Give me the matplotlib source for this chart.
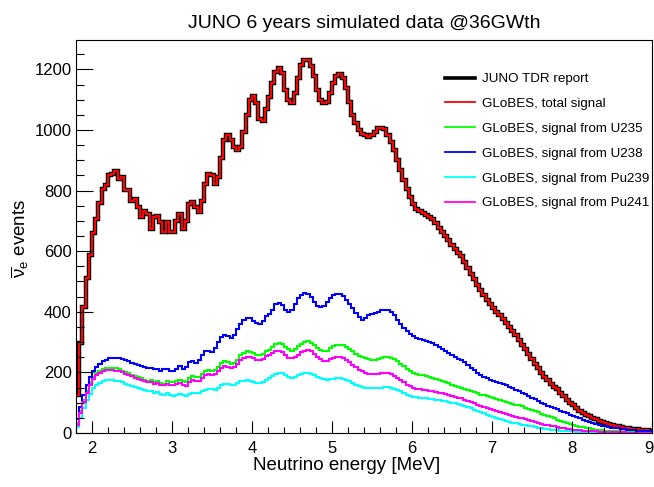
import numpy as np
import matplotlib
matplotlib.use('Agg')
import matplotlib.pyplot as plt
import matplotlib.transforms as mtransforms
from matplotlib.lines import Line2D
from matplotlib.ticker import MultipleLocator, FixedLocator

plt.rcParams['font.family'] = ['Liberation Sans', 'DejaVu Sans']
plt.rcParams['mathtext.fontset'] = 'custom'
plt.rcParams['mathtext.rm'] = 'Liberation Sans'
plt.rcParams['mathtext.it'] = 'Liberation Sans'

# ---- data (0.04 MeV bins from 1.8 to 9.0 MeV) ----
bin_edges = np.round(1.8 + 0.04 * np.arange(181), 2)
x_ticks = [2, 3, 4, 5, 6, 7, 8, 9]

tdr_report = [
    127, 297, 415, 510, 587, 659, 706, 760, 804, 820,
    850, 856, 865, 839, 845, 803, 803, 765, 773, 745,
    712, 734, 723, 673, 712, 717, 695, 662, 695, 662,
    662, 700, 723, 673, 700, 756, 762, 745, 728, 767,
    822, 856, 850, 822, 845, 906, 966, 983, 966, 944,
    933, 944, 994, 1049, 1099, 1113, 1088, 1035, 1030, 1070,
    1110, 1155, 1193, 1204, 1188, 1132, 1099, 1088, 1121, 1171,
    1215, 1232, 1232, 1210, 1177, 1132, 1099, 1088, 1094, 1121,
    1155, 1179, 1184, 1171, 1138, 1094, 1049, 1022, 1000, 988,
    985, 977, 983, 994, 1005, 1008, 1002, 985, 961, 933,
    900, 867, 834, 806, 778, 756, 739, 732, 725, 720,
    714, 705, 692, 678, 664, 650, 636, 622, 608, 595,
    585, 565, 545, 525, 507, 490, 472, 455, 440, 425,
    412, 400, 388, 375, 362, 350, 337, 323, 308, 292,
    276, 260, 244, 228, 213, 199, 186, 174, 163, 153,
    145, 133, 121, 110, 100, 91, 82, 74, 66, 60,
    55, 50, 45, 41, 37, 33, 30, 27, 24, 22,
    20, 18, 16, 14, 13, 12, 11, 10, 9, 8,
]

globes_total = [
    127, 297, 415, 510, 587, 659, 706, 760, 804, 820,
    850, 856, 865, 839, 845, 803, 803, 765, 773, 745,
    712, 734, 723, 673, 712, 717, 695, 662, 695, 662,
    662, 700, 723, 673, 700, 756, 762, 745, 728, 767,
    822, 856, 850, 822, 845, 906, 966, 983, 966, 944,
    933, 944, 994, 1049, 1099, 1113, 1088, 1035, 1030, 1070,
    1110, 1155, 1193, 1204, 1188, 1132, 1099, 1088, 1121, 1171,
    1215, 1232, 1232, 1210, 1177, 1132, 1099, 1088, 1094, 1121,
    1155, 1179, 1184, 1171, 1138, 1094, 1049, 1022, 1000, 988,
    985, 977, 983, 994, 1005, 1008, 1002, 985, 961, 933,
    900, 867, 834, 806, 778, 756, 739, 732, 725, 720,
    714, 705, 692, 678, 664, 650, 636, 622, 608, 595,
    585, 565, 545, 525, 507, 490, 472, 455, 440, 425,
    412, 400, 388, 375, 362, 350, 337, 323, 308, 292,
    276, 260, 244, 228, 213, 199, 186, 174, 163, 153,
    145, 133, 121, 110, 100, 91, 82, 74, 66, 60,
    55, 50, 45, 41, 37, 33, 30, 27, 24, 22,
    20, 18, 16, 14, 13, 12, 11, 10, 9, 8,
]

signal_u235 = [
    32, 72, 110, 140, 165, 185, 198, 206, 211, 214,
    215, 215, 213, 210, 206, 202, 197, 193, 188, 184,
    180, 176, 172, 175, 168, 170, 166, 163, 170, 167,
    168, 172, 176, 170, 168, 180, 188, 186, 186, 195,
    205, 208, 206, 208, 218, 230, 236, 233, 229, 232,
    242, 256, 265, 270, 268, 264, 258, 257, 262, 272,
    275, 285, 293, 297, 293, 284, 276, 272, 276, 286,
    295, 301, 302, 298, 290, 281, 275, 271, 272, 279,
    286, 291, 292, 290, 285, 278, 270, 262, 255, 250,
    248, 244, 242, 242, 245, 249, 252, 252, 249, 244,
    237, 229, 220, 212, 205, 199, 195, 192, 190, 188,
    185, 182, 179, 176, 172, 168, 164, 160, 156, 153,
    150, 146, 142, 138, 134, 131, 127, 124, 121, 118,
    115, 112, 109, 106, 103, 100, 97, 94, 91, 88,
    84, 80, 76, 72, 68, 64, 60, 56, 52, 48,
    44, 40, 36, 33, 30, 27, 24, 21, 19, 17,
    15, 13, 11, 10, 9, 8, 7, 6, 5, 5,
    4, 4, 3, 3, 3, 2, 2, 2, 2, 1,
]

signal_u238 = [
    45, 85, 125, 158, 185, 203, 218, 229, 237, 241,
    246, 249, 248, 246, 243, 240, 237, 232, 229, 225,
    222, 218, 214, 216, 210, 212, 205, 210, 212, 205,
    205, 212, 220, 212, 218, 235, 238, 232, 242, 258,
    270, 272, 268, 280, 300, 318, 325, 320, 312, 322,
    342, 360, 372, 378, 378, 370, 362, 360, 370, 385,
    392, 405, 425, 430, 421, 406, 400, 407, 425, 445,
    456, 462, 460, 449, 433, 420, 416, 420, 432, 446,
    455, 460, 459, 452, 440, 426, 411, 396, 383, 374,
    378, 388, 392, 395, 400, 405, 407, 405, 398, 388,
    374, 360, 348, 337, 328, 320, 314, 309, 306, 303,
    300, 296, 291, 285, 278, 271, 263, 256, 250, 245,
    240, 233, 225, 216, 207, 199, 192, 186, 180, 176,
    172, 168, 165, 161, 157, 153, 148, 143, 138, 133,
    128, 123, 117, 111, 106, 100, 95, 90, 85, 81,
    78, 74, 69, 65, 61, 57, 52, 48, 44, 40,
    35, 32, 29, 27, 24, 22, 20, 18, 16, 15,
    13, 12, 11, 10, 9, 8, 7, 6, 6, 5,
]

signal_pu239 = [
    20, 50, 82, 108, 130, 147, 159, 166, 171, 174,
    175, 175, 173, 170, 167, 163, 159, 155, 151, 148,
    145, 141, 137, 139, 133, 134, 130, 127, 131, 127,
    123, 125, 128, 124, 122, 129, 133, 131, 131, 137,
    143, 146, 144, 143, 149, 157, 162, 161, 157, 158,
    164, 170, 173, 174, 172, 168, 164, 164, 168, 175,
    180, 188, 195, 199, 197, 191, 185, 183, 185, 190,
    195, 198, 198, 196, 191, 185, 180, 177, 176, 177,
    179, 180, 180, 178, 175, 170, 165, 160, 156, 152,
    150, 148, 147, 147, 148, 150, 151, 151, 149, 146,
    142, 137, 132, 127, 123, 120, 118, 116, 115, 114,
    113, 111, 110, 108, 106, 104, 102, 100, 98, 96,
    93, 89, 85, 81, 77, 73, 69, 65, 61, 57,
    53, 50, 46, 43, 40, 37, 34, 32, 30, 28,
    26, 24, 22, 20, 18, 16, 14, 13, 11, 10,
    9, 8, 7, 6, 5, 5, 4, 4, 3, 3,
    3, 2, 2, 2, 2, 1, 1, 1, 1, 1,
    1, 1, 0, 0, 0, 0, 0, 0, 0, 0,
]

signal_pu241 = [
    28, 65, 102, 133, 158, 177, 190, 199, 204, 207,
    209, 208, 206, 203, 200, 196, 191, 187, 183, 179,
    175, 171, 167, 169, 163, 165, 160, 157, 163, 159,
    158, 161, 165, 158, 156, 167, 174, 172, 173, 182,
    191, 194, 192, 195, 205, 216, 222, 219, 215, 218,
    228, 240, 248, 252, 250, 246, 240, 240, 245, 254,
    257, 264, 269, 271, 266, 257, 249, 246, 250, 259,
    267, 272, 273, 269, 261, 252, 244, 239, 239, 243,
    248, 251, 251, 248, 242, 235, 226, 217, 209, 203,
    199, 196, 194, 194, 195, 197, 198, 197, 194, 189,
    182, 175, 167, 160, 154, 149, 146, 144, 142, 141,
    139, 137, 135, 133, 131, 129, 126, 123, 120, 117,
    114, 110, 106, 102, 98, 94, 90, 86, 82, 79,
    76, 72, 69, 66, 63, 60, 57, 54, 51, 48,
    45, 42, 39, 36, 33, 31, 28, 26, 24, 22,
    20, 18, 16, 14, 12, 11, 10, 9, 8, 7,
    6, 5, 5, 4, 4, 3, 3, 3, 2, 2,
    2, 2, 1, 1, 1, 1, 1, 1, 1, 0,
]

legend_labels = [
    'JUNO TDR report',
    'GLoBES, total signal',
    'GLoBES, signal from U235',
    'GLoBES, signal from U238',
    'GLoBES, signal from Pu239',
    'GLoBES, signal from Pu241',
]

# ---- figure ----
W, H = 654, 487
fig = plt.figure(figsize=(W / 100, H / 100), dpi=100)
ax = fig.add_axes([76 / W, 54 / H, 576 / W, 393 / H])

ax.stairs(tdr_report, bin_edges, color='black', lw=3.2, baseline=None)
ax.stairs(globes_total, bin_edges, color='#ff0000', lw=1.5, baseline=None)
ax.stairs(signal_u235, bin_edges, color='#00ff00', lw=1.5, baseline=None)
ax.stairs(signal_u238, bin_edges, color='#0000ff', lw=1.5, baseline=None)
ax.stairs(signal_pu239, bin_edges, color='#00ffff', lw=1.5, baseline=None)
ax.stairs(signal_pu241, bin_edges, color='#ff00ff', lw=1.5, baseline=None)

ax.set_xlim(1.8, 9.0)
ax.set_ylim(0, 1297)

ax.xaxis.set_major_locator(FixedLocator(x_ticks))
ax.xaxis.set_minor_locator(MultipleLocator(0.2))
ax.yaxis.set_major_locator(MultipleLocator(200))
ax.yaxis.set_minor_locator(MultipleLocator(50))
ax.set_xticklabels([str(t) for t in x_ticks])

ax.tick_params(axis='x', which='major', direction='in', length=8.6, width=0.8,
               labelsize=12, pad=5.5, top=False)
ax.tick_params(axis='x', which='minor', direction='in', length=4.3, width=0.8, top=False)
ax.tick_params(axis='y', which='major', direction='in', length=12.2, width=0.8,
               labelsize=12, pad=3, right=False)
ax.tick_params(axis='y', which='minor', direction='in', length=5.8, width=0.8, right=False)

for s in ax.spines.values():
    s.set_linewidth(0.8)

ax.set_title('JUNO 6 years simulated data @36GWth', fontsize=14, pad=9)
fig.text(347 / W, 1 - 466 / H, 'Neutrino energy [MeV]', fontsize=13.5,
         ha='center', va='center')
fig.text(20 / W, 1 - 238 / H, r'$\overline{\nu}_{e}$ events', fontsize=13.5,
         rotation=90, ha='center', va='center')

handles = [
    Line2D([], [], color='black', lw=2.6),
    Line2D([], [], color='#ff0000', lw=1.3),
    Line2D([], [], color='#00ff00', lw=1.3),
    Line2D([], [], color='#0000ff', lw=1.3),
    Line2D([], [], color='#00ffff', lw=1.3),
    Line2D([], [], color='#ff00ff', lw=1.3),
]
ax.legend(handles, legend_labels, loc='upper left',
          bbox_to_anchor=(0.641, 0.916), frameon=False, fontsize=9.6,
          handlelength=2.25, handletextpad=0.52, labelspacing=0.935,
          borderpad=0, borderaxespad=0)

# keep the last x tick label ("9") inside the figure edge
for lab in ax.get_xticklabels():
    if lab.get_text() == '9':
        lab.set_horizontalalignment('right')
        lab.set_transform(lab.get_transform() +
                          mtransforms.ScaledTranslation(2 / 100, 0, fig.dpi_scale_trans))

fig.savefig('out.png', dpi=100)
